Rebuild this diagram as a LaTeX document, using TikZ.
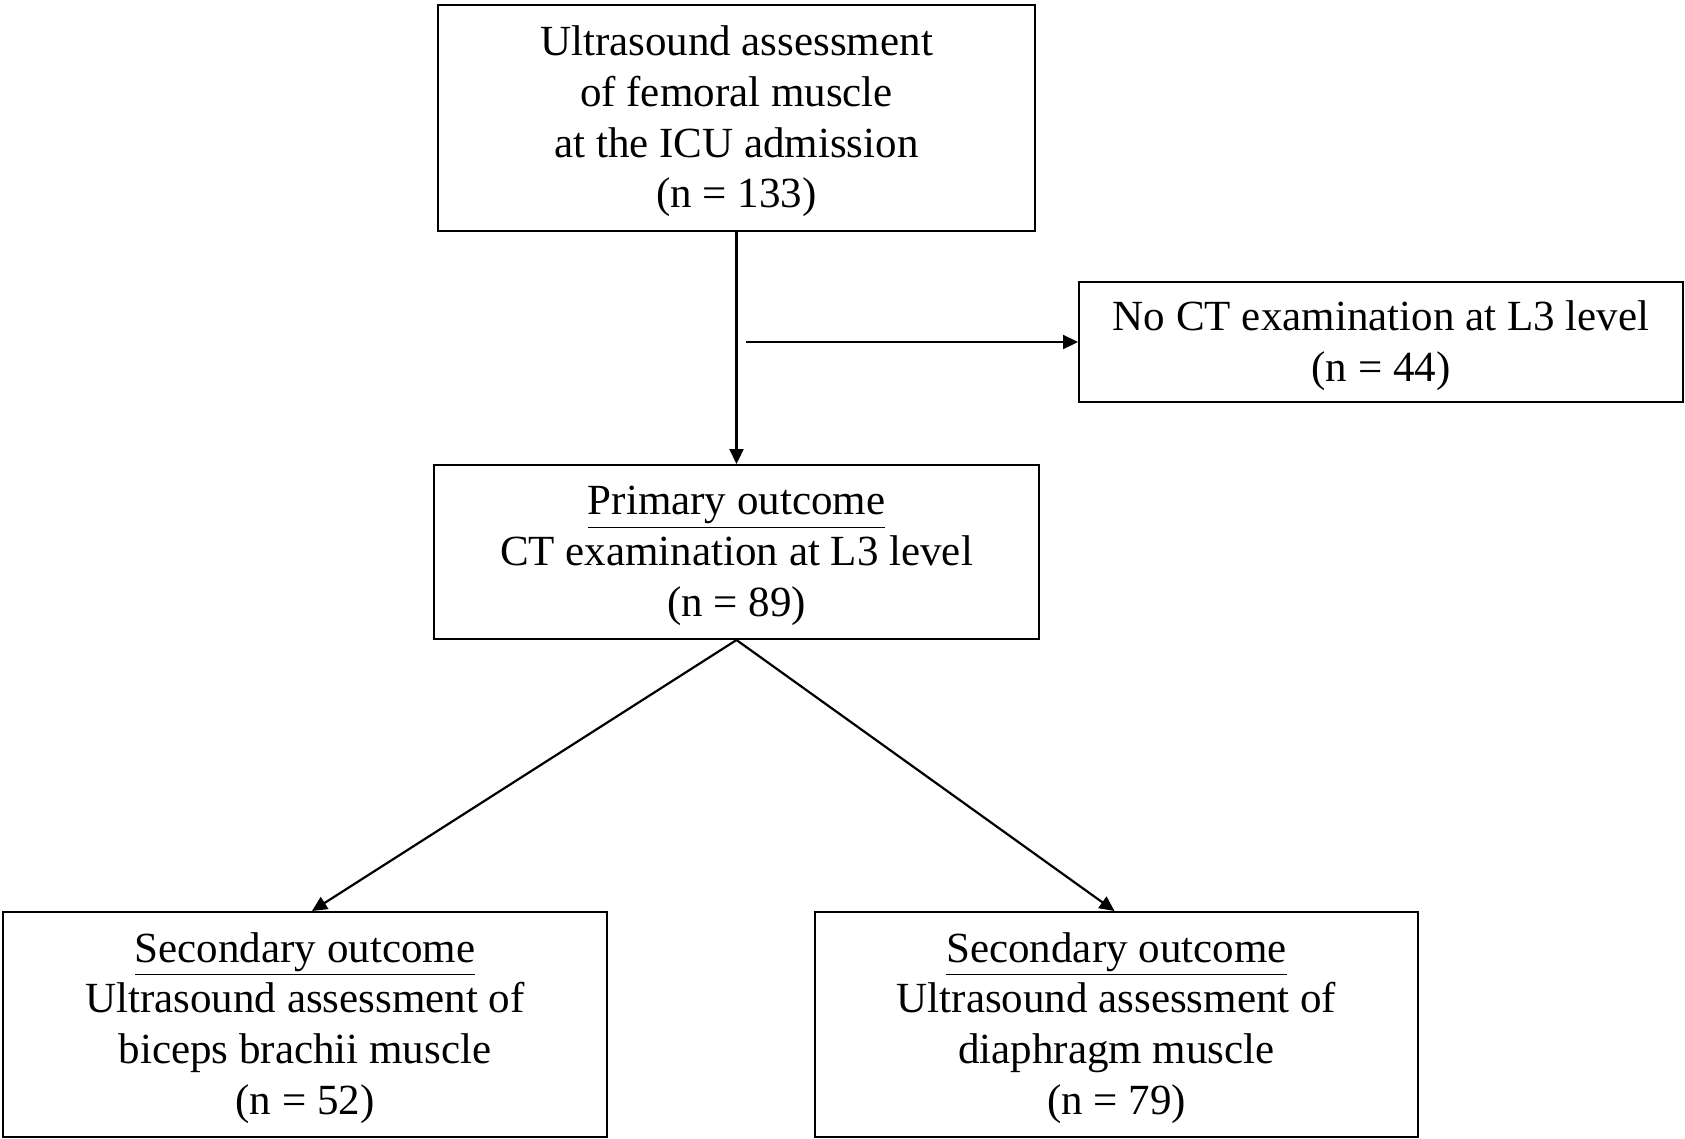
\documentclass[tikz,border=0pt]{standalone}
\usepackage{fontspec}
\setmainfont{Liberation Serif}
\usetikzlibrary{positioning, arrows.meta}
\newcommand{\firstln}{\rule{0pt}{18.3pt}}

\begin{document}
\begin{tikzpicture}[x=0.5pt,y=-0.5pt,>={Triangle[length=7.5pt,width=7pt]},
    box/.style={draw, line width=1pt, align=center, inner sep=0pt,
        font=\fontsize{21.5}{25.4}\selectfont},
    link/.style={->, line width=1.1pt}]
        \useasboundingbox (0,0) rectangle (1685,1139);
        % Nodes
        \node (us) [box, minimum width=298.5pt, minimum height=113pt] at (736.5,118)
            {\firstln Ultrasound assessment\\of femoral muscle\\at the ICU admission\\(n = 133)};
        \node (noct) [box, minimum width=302pt, minimum height=60pt] at (1381,342)
            {\firstln No CT examination at L3 level\\(n = 44)};
        \node (prim) [box, minimum width=302.5pt, minimum height=87pt] at (736.5,552)
            {\firstln\underline{Primary outcome}\\CT examination at L3 level\\(n = 89)};
        \node (biceps) [box, minimum width=302pt, minimum height=112.5pt] at (305,1024.5)
            {\firstln\underline{Secondary outcome}\\Ultrasound assessment of\\biceps brachii muscle\\(n = 52)};
        \node (diaph) [box, minimum width=301.5pt, minimum height=112.5pt] at (1116.5,1024.5)
            {\firstln\underline{Secondary outcome}\\Ultrasound assessment of\\diaphragm muscle\\(n = 79)};
        \coordinate (split) at (746,342);

        % Arrows
        \draw[link] (us) -- (prim);
        \draw[link] (split) -- (noct.west);
        \draw[link] (prim.south) -- ([xshift=3.5pt]biceps.north);
        \draw[link] (prim.south) -- ([xshift=-1pt]diaph.north);

    \end{tikzpicture}
\end{document}
